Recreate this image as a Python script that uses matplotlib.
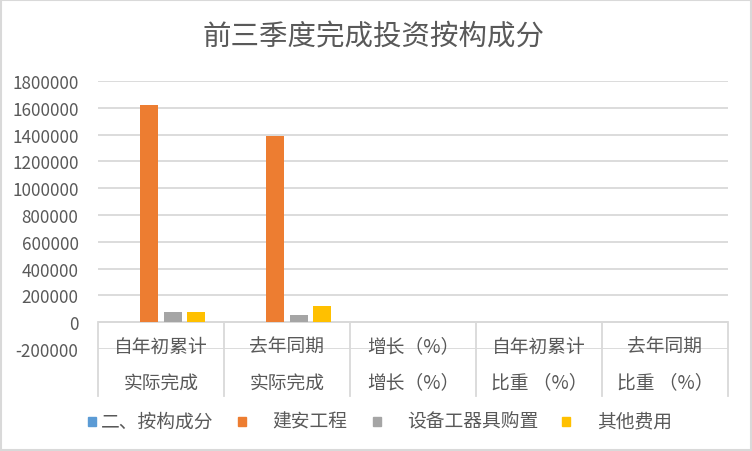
import matplotlib
matplotlib.use("Agg")
import matplotlib.pyplot as plt
import matplotlib.transforms as mtransforms
from matplotlib.patches import Rectangle
import numpy as np

plt.rcParams['font.family'] = ['Noto Sans CJK SC', 'DejaVu Sans']

title = "前三季度完成投资按构成分"
cat_top = ["自年初累计", "去年同期", "增长（%）", "自年初累计", "去年同期"]
cat_bottom = ["实际完成", "实际完成", "增长（%）", "比重 （%）", "比重 （%）"]
series_names = ["二、按构成分", "建安工程", "设备工器具购置", "其他费用"]
s_total = [np.nan, np.nan, np.nan, np.nan, np.nan]
s_build = [1620000, 1388000, 16.7, 91.0, 88.2]
s_equip = [77000, 55000, 40.0, 4.3, 3.5]
s_other = [77000, 122000, -36.9, 4.7, 8.3]
series_values = [s_total, s_build, s_equip, s_other]
colors = ["#5B9BD5", "#ED7D31", "#A5A5A5", "#FFC000"]
yticks = list(range(-200000, 1800001, 200000))

TXT = "#595959"
GRID = "#D9D9D9"

W, H = 752, 452
fig = plt.figure(figsize=(W / 100, H / 100), dpi=100)
fig.patch.set_facecolor("white")

left, right, top, bottom = 98, 728, 82, 350
ax = fig.add_axes([left / W, 1 - bottom / H, (right - left) / W, (bottom - top) / H])
ax.set_facecolor("white")

n = len(cat_top)
x = np.arange(n)
bw = 0.143
step = 0.183
offs = (np.arange(4) - 1.5) * step
for i, (vals, c) in enumerate(zip(series_values, colors)):
    ax.bar(x + offs[i], vals, width=bw, color=c, zorder=3)

ax.set_xlim(-0.5, n - 0.5)
ax.set_ylim(-200000, 1800000)
ax.set_yticks(yticks)
ax.set_yticklabels([str(v) for v in yticks], fontsize=12.3, color=TXT)
ax.tick_params(axis='y', length=0, pad=14)
ax.set_xticks([])
for s in ax.spines.values():
    s.set_visible(False)
ax.grid(axis='y', color=GRID, linewidth=1.3, zorder=0)
ax.axhline(0, color=GRID, linewidth=1.3, zorder=2)

# category separators and labels
trans = mtransforms.blended_transform_factory(ax.transData, ax.transAxes)
ph = bottom - top
y_axis0 = (bottom - 323) / ph
y_sep_end = (bottom - 397) / ph
for b in np.arange(-0.5, n, 1.0):
    ax.plot([b, b], [y_axis0, y_sep_end], transform=trans, color=GRID,
            linewidth=1.3, clip_on=False, zorder=2)
y_row1 = (bottom - 347) / ph
y_row2 = (bottom - 383) / ph
for i in range(n):
    ax.text(i, y_row1, cat_top[i], transform=trans, ha='center', va='center',
            fontsize=13.5, color=TXT, zorder=4)
    ax.text(i, y_row2, cat_bottom[i], transform=trans, ha='center', va='center',
            fontsize=13.5, color=TXT, zorder=4)

# title
fig.text(374 / W, 1 - 38 / H, title, ha='center', va='center', fontsize=20.5, color=TXT)

# legend
marker_x = [88, 238, 373, 562]
text_x = [101, 272, 407, 597]
ly = 422
for mx, tx, name, c in zip(marker_x, text_x, series_names, colors):
    fig.patches.append(Rectangle((mx / W, 1 - (ly + 4.5) / H), 8 / W, 9 / H,
                                 transform=fig.transFigure, color=c))
    fig.text(tx / W, 1 - ly / H, name, ha='left', va='center', fontsize=13.5, color=TXT)

# outer border
fig.patches.append(Rectangle((1 / W, 1 / H), (W - 2) / W, (H - 2) / H,
                             transform=fig.transFigure, fill=False,
                             edgecolor=GRID, linewidth=1.5))

fig.savefig("out.png", dpi=100, facecolor="white")
